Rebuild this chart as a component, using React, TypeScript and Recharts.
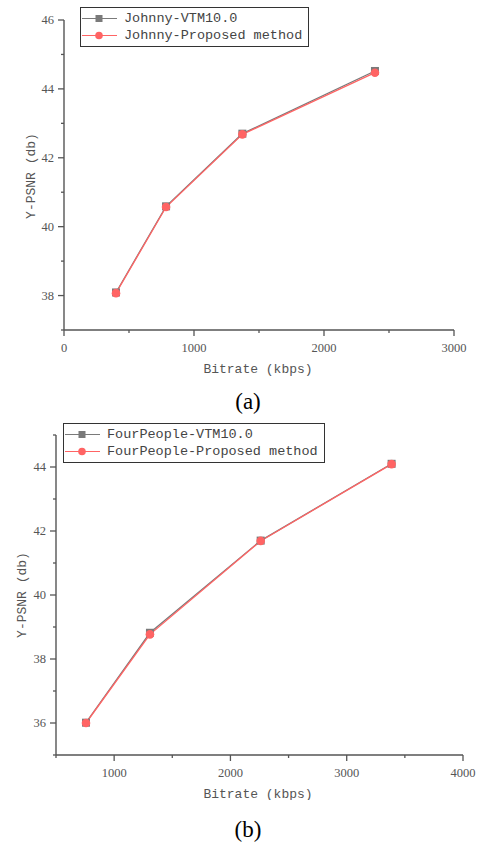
import React from 'react';
import { LineChart, Line, XAxis, YAxis, Legend, Label } from 'recharts';

// Chart (a) data — Johnny
const johnnyBitrate = [400, 785, 1372, 2392];
const johnnyVTM = [38.09, 40.59, 42.7, 44.52];
const johnnyProposed = [38.07, 40.57, 42.68, 44.47];
const johnnyNames = ['Johnny-VTM10.0', 'Johnny-Proposed method'];

// Chart (b) data — FourPeople
const fourBitrate = [758, 1308, 2260, 3386];
const fourVTM = [36.01, 38.82, 41.7, 44.1];
const fourProposed = [36.0, 38.77, 41.69, 44.09];
const fourNames = ['FourPeople-VTM10.0', 'FourPeople-Proposed method'];

const xTicksA = [0, 500, 1000, 1500, 2000, 2500, 3000];
const yTicksA = [37, 38, 39, 40, 41, 42, 43, 44, 45, 46];
const xTicksB = [500, 1000, 1500, 2000, 2500, 3000, 3500, 4000];
const yTicksB = [35, 36, 37, 38, 39, 40, 41, 42, 43, 44, 45];

const dataA = johnnyBitrate.map((b, i) => ({ b, vtm: johnnyVTM[i], prop: johnnyProposed[i] }));
const dataB = fourBitrate.map((b, i) => ({ b, vtm: fourVTM[i], prop: fourProposed[i] }));

const GRAY = '#7a7a7a';
const RED = '#ff6464';
const AXIS = '#555';
const SERIF = '"Liberation Serif", "Times New Roman", serif';
const MONO = '"Liberation Mono", "DejaVu Sans Mono", monospace';

const YTick = (props: any) => {
  const { x, y, payload } = props;
  const major = payload.value % 2 === 0;
  return (
    <g>
      <line x1={x} x2={x - (major ? 6 : 3)} y1={y} y2={y} stroke={AXIS} strokeWidth={1.3} />
      {major && (
        <text x={x - 10} y={y} dy={4} textAnchor="end" fontSize={12.5} fill="#555" fontFamily={SERIF}>
          {payload.value}
        </text>
      )}
    </g>
  );
};

const XTick = (props: any) => {
  const { x, y, payload } = props;
  const major = payload.value % 1000 === 0;
  return (
    <g>
      <line x1={x} x2={x} y1={y} y2={y + (major ? 6 : 3)} stroke={AXIS} strokeWidth={1.3} />
      {major && (
        <text x={x} y={y + 22} textAnchor="middle" fontSize={12.5} fill="#555" fontFamily={SERIF}>
          {payload.value}
        </text>
      )}
    </g>
  );
};

const Square = (props: any) => {
  const { cx, cy } = props;
  if (cx == null || cy == null) return null;
  return <rect x={cx - 4} y={cy - 4} width={8} height={8} fill={GRAY} />;
};
const Circle = (props: any) => {
  const { cx, cy } = props;
  if (cx == null || cy == null) return null;
  return <circle cx={cx} cy={cy} r={4.3} fill={RED} />;
};

const LegendBox = (props: any) => {
  const names: string[] = props.names;
  return (
    <div style={{ border: '1.3px solid #333', background: '#fff', padding: '2px 6px 2px 1px' }}>
      {names.map((n: string, i: number) => (
        <div key={i} style={{ display: 'flex', alignItems: 'center', height: 17 }}>
          <svg width={35} height={17} style={{ display: 'block' }}>
            <line x1={0} x2={35} y1={8.5} y2={8.5} stroke={i === 0 ? GRAY : RED} strokeWidth={1.2} />
            {i === 0 ? (
              <rect x={13.5} y={5} width={7} height={7} fill={GRAY} />
            ) : (
              <circle cx={17} cy={8.5} r={3.8} fill={RED} />
            )}
          </svg>
          <span
            style={{
              marginLeft: 7,
              fontFamily: MONO,
              fontSize: 13.5,
              color: '#444',
              whiteSpace: 'nowrap',
              lineHeight: '17px',
            }}
          >
            {n}
          </span>
        </div>
      ))}
    </div>
  );
};

const YTitle = (cx: number, cy: number) => (props: any) => (
  <text
    x={cx}
    y={cy}
    transform={`rotate(-90, ${cx}, ${cy})`}
    textAnchor="middle"
    dominantBaseline="central"
    fontSize={13}
    fill="#555"
    fontFamily={MONO}
  >
    Y-PSNR (db)
  </text>
);

const XTitle = (cx: number, cy: number) => (props: any) => (
  <text x={cx} y={cy} textAnchor="middle" dominantBaseline="central" fontSize={13} fill="#555" fontFamily={MONO}>
    Bitrate (kbps)
  </text>
);

export default function App() {
  return (
    <div style={{ position: 'absolute', left: 0, top: 0, width: 477, height: 846, background: '#fff' }}>
      <div style={{ position: 'absolute', left: 0, top: 0 }}>
        <LineChart width={477} height={380} data={dataA} margin={{ top: 20, right: 23, left: 0, bottom: 0 }}>
          <XAxis
            dataKey="b"
            type="number"
            domain={[0, 3000]}
            ticks={xTicksA}
            interval={0}
            height={50}
            tickSize={0}
            tickMargin={0}
            tickLine={false}
            tick={<XTick />}
            stroke={AXIS}
            strokeWidth={1.4}
          >
            <Label content={XTitle(258, 369)} />
          </XAxis>
          <YAxis
            type="number"
            domain={[37, 46]}
            ticks={yTicksA}
            interval={0}
            width={64}
            tickSize={0}
            tickMargin={0}
            tickLine={false}
            tick={<YTick />}
            stroke={AXIS}
            strokeWidth={1.4}
            allowDataOverflow
          >
            <Label content={YTitle(31, 176)} />
          </YAxis>
          <Legend
            layout="vertical"
            align="center"
            verticalAlign="middle"
            content={<LegendBox names={johnnyNames} />}
            wrapperStyle={{ position: 'absolute', left: 80, top: 7, width: 'auto' }}
          />
          <Line
            dataKey="vtm"
            name={johnnyNames[0]}
            stroke={GRAY}
            strokeWidth={1.3}
            dot={<Square />}
            activeDot={false}
            isAnimationActive={false}
          />
          <Line
            dataKey="prop"
            name={johnnyNames[1]}
            stroke={RED}
            strokeWidth={1.3}
            dot={<Circle />}
            activeDot={false}
            isAnimationActive={false}
          />
        </LineChart>
      </div>
      <div
        style={{
          position: 'absolute',
          left: 0,
          top: 389,
          width: 496,
          textAlign: 'center',
          fontFamily: SERIF,
          fontSize: 23,
          color: '#000',
          lineHeight: '26px',
        }}
      >
        (a)
      </div>

      <div style={{ position: 'absolute', left: 0, top: 420 }}>
        <LineChart width={477} height={380} data={dataB} margin={{ top: 15, right: 14, left: 0, bottom: 0 }}>
          <XAxis
            dataKey="b"
            type="number"
            domain={[500, 4000]}
            ticks={xTicksB}
            interval={0}
            height={45}
            tickSize={0}
            tickMargin={0}
            tickLine={false}
            tick={<XTick />}
            stroke={AXIS}
            strokeWidth={1.4}
            allowDataOverflow
          >
            <Label content={XTitle(258, 374)} />
          </XAxis>
          <YAxis
            type="number"
            domain={[35, 45]}
            ticks={yTicksB}
            interval={0}
            width={56}
            tickSize={0}
            tickMargin={0}
            tickLine={false}
            tick={<YTick />}
            stroke={AXIS}
            strokeWidth={1.4}
            allowDataOverflow
          >
            <Label content={YTitle(22, 175)} />
          </YAxis>
          <Legend
            layout="vertical"
            align="center"
            verticalAlign="middle"
            content={<LegendBox names={fourNames} />}
            wrapperStyle={{ position: 'absolute', left: 63, top: 3, width: 'auto' }}
          />
          <Line
            dataKey="vtm"
            name={fourNames[0]}
            stroke={GRAY}
            strokeWidth={1.3}
            dot={<Square />}
            activeDot={false}
            isAnimationActive={false}
          />
          <Line
            dataKey="prop"
            name={fourNames[1]}
            stroke={RED}
            strokeWidth={1.3}
            dot={<Circle />}
            activeDot={false}
            isAnimationActive={false}
          />
        </LineChart>
      </div>
      <div
        style={{
          position: 'absolute',
          left: 0,
          top: 817,
          width: 496,
          textAlign: 'center',
          fontFamily: SERIF,
          fontSize: 23,
          color: '#000',
          lineHeight: '26px',
        }}
      >
        (b)
      </div>
    </div>
  );
}
